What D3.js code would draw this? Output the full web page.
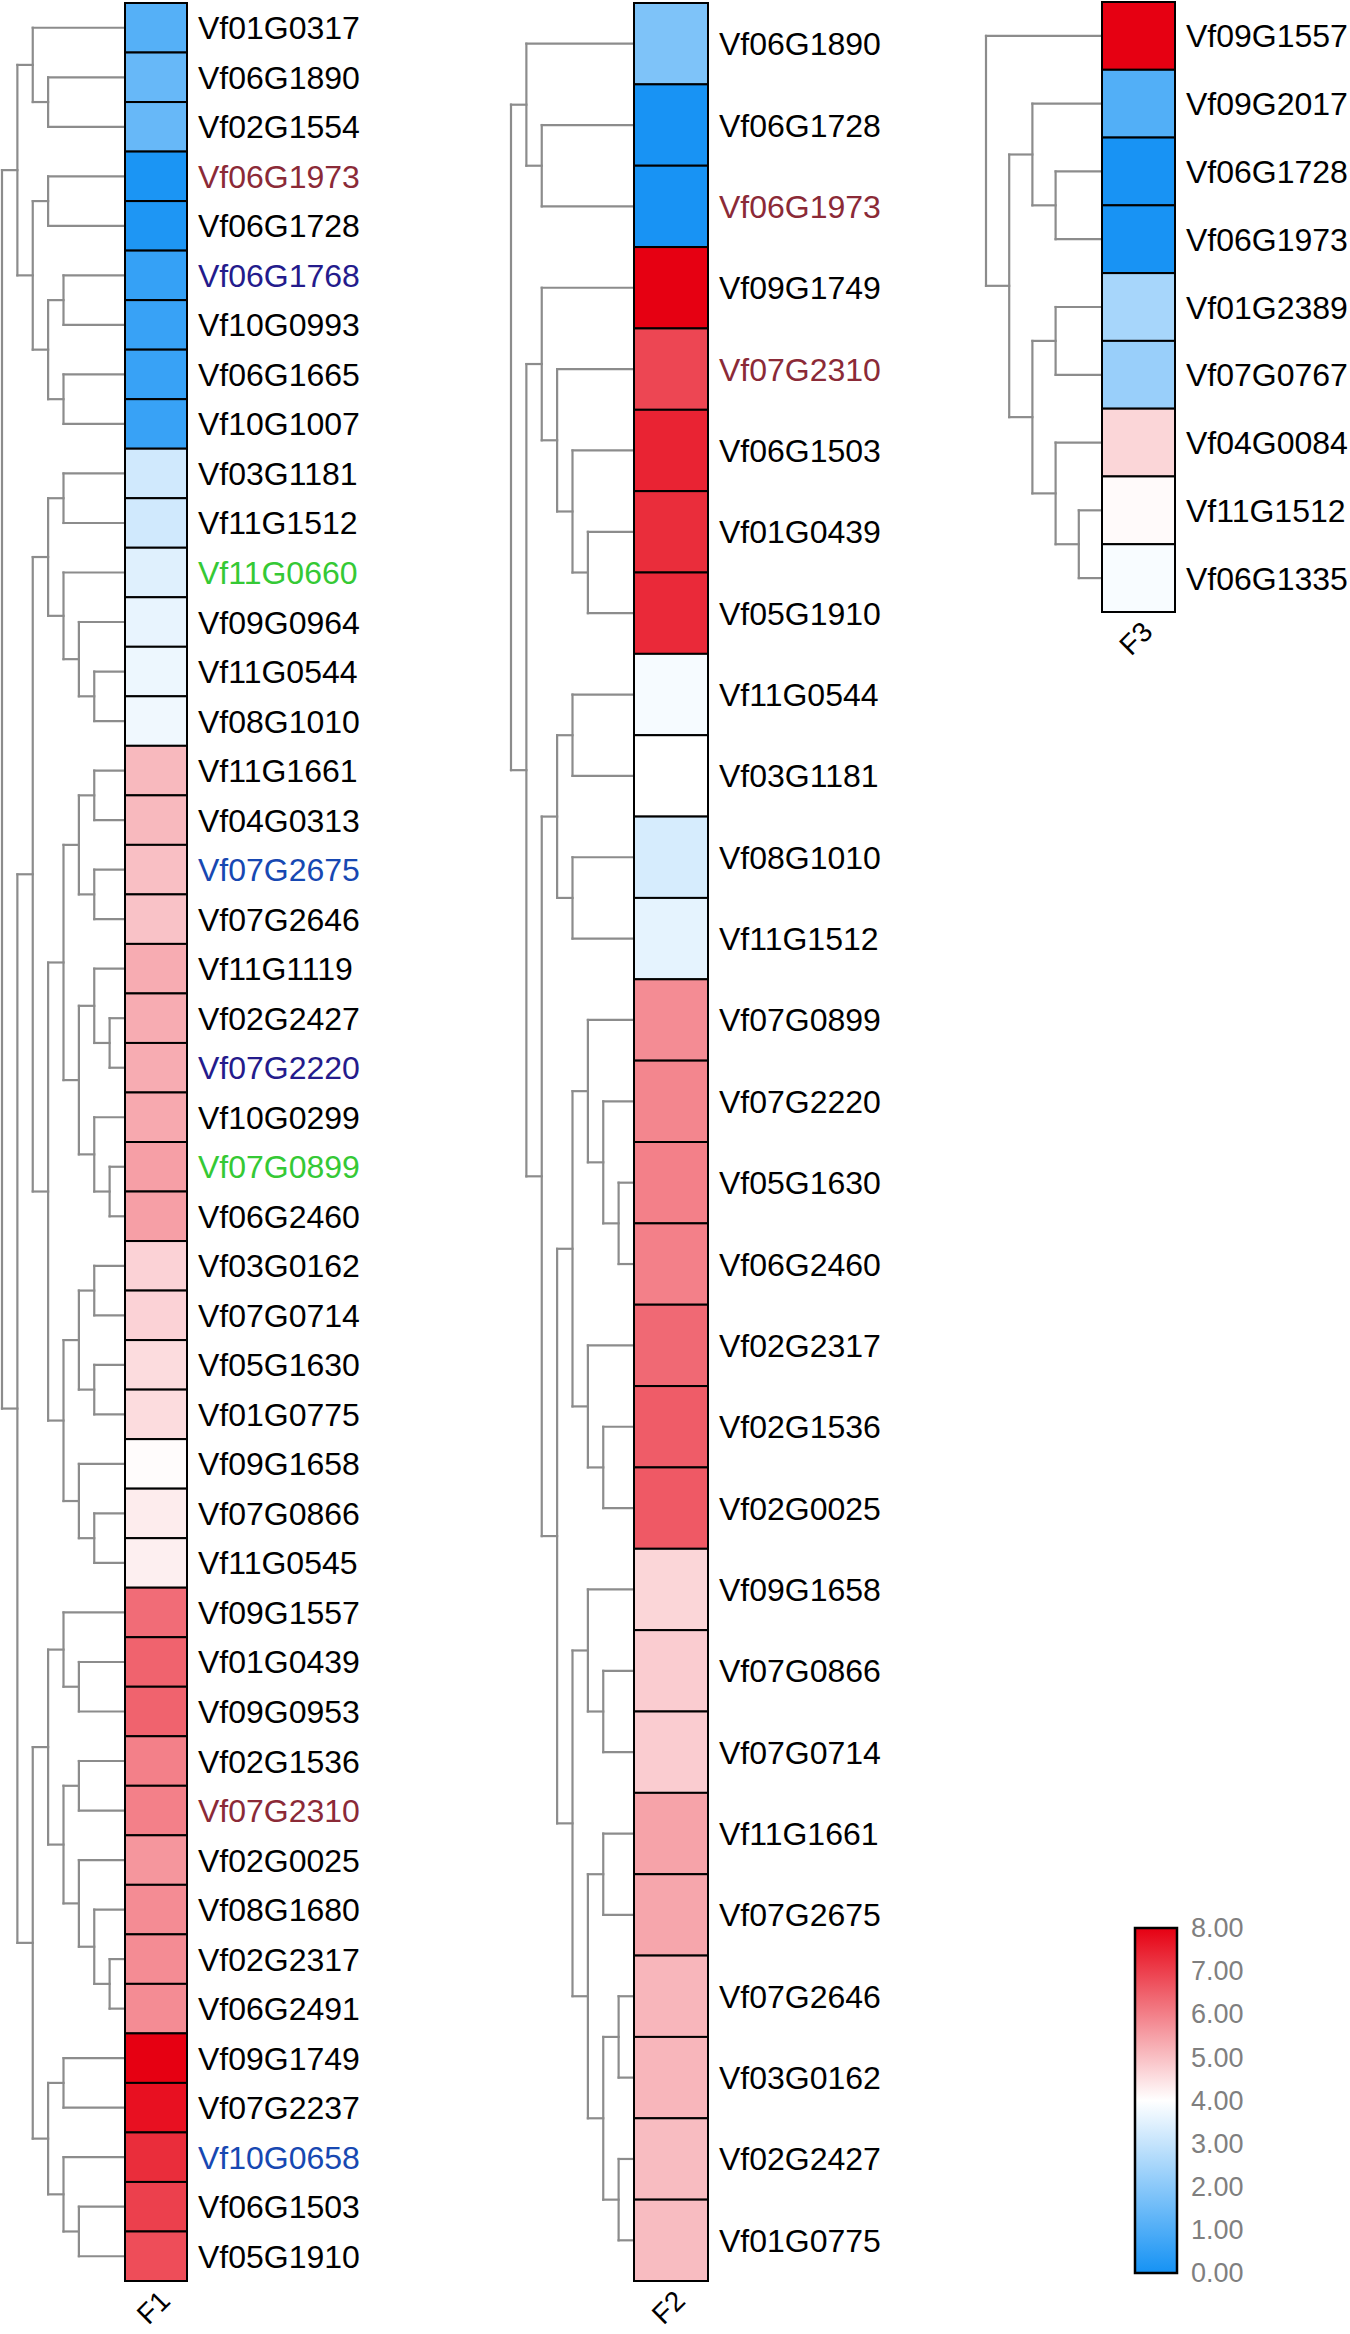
<!DOCTYPE html>
<html><head><meta charset="utf-8">
<script src="https://cdn.jsdelivr.net/npm/d3@7"></script>
<style>body{margin:0;background:#fff}</style>
</head><body>
<svg id="chart" width="1350" height="2334"></svg>
<script>
// ---------------- DATA ----------------
const f1Genes = ["Vf01G0317","Vf06G1890","Vf02G1554","Vf06G1973","Vf06G1728","Vf06G1768","Vf10G0993","Vf06G1665","Vf10G1007","Vf03G1181","Vf11G1512","Vf11G0660","Vf09G0964","Vf11G0544","Vf08G1010","Vf11G1661","Vf04G0313","Vf07G2675","Vf07G2646","Vf11G1119","Vf02G2427","Vf07G2220","Vf10G0299","Vf07G0899","Vf06G2460","Vf03G0162","Vf07G0714","Vf05G1630","Vf01G0775","Vf09G1658","Vf07G0866","Vf11G0545","Vf09G1557","Vf01G0439","Vf09G0953","Vf02G1536","Vf07G2310","Vf02G0025","Vf08G1680","Vf02G2317","Vf06G2491","Vf09G1749","Vf07G2237","Vf10G0658","Vf06G1503","Vf05G1910"];
const f1Values = [1.1,1.4,1.4,0.1,0.15,0.55,0.6,0.6,0.6,3.2,3.2,3.45,3.6,3.7,3.75,5.1,5.1,5.0,4.95,5.3,5.3,5.3,5.35,5.5,5.5,4.7,4.7,4.55,4.55,4.05,4.3,4.25,6.3,6.45,6.45,6.0,6.0,5.65,5.8,5.8,5.8,8.0,7.75,7.3,7.0,6.8];
// dendrogram: [mergeLevel, left, right]; leaves are row indices
const f1Tree = [8,
  [7, [6, 0, [5, 1, 2]], [6, [5, 3, 4], [5, [4, 5, 6], [4, 7, 8]]]],
  [7,
    [6,
      [5, [4, 9, 10], [4, 11, [3, 12, [2, 13, 14]]]],
      [5,
        [4, [3, [2, 15, 16], [2, 17, 18]], [3, [2, 19, [1, 20, 21]], [2, 22, [1, 23, 24]]]],
        [4, [3, [2, 25, 26], [2, 27, 28]], [3, 29, [2, 30, 31]]]]],
    [6,
      [5, [4, 32, [3, 33, 34]], [4, [3, 35, 36], [3, 37, [2, 38, [1, 39, 40]]]]],
      [5, [4, 41, 42], [4, 43, [3, 44, 45]]]]]];
const f1LabelColors = [["Vf06G1973","#8B2A37"],["Vf06G1768","#241B8C"],["Vf11G0660","#35C935"],["Vf07G2675","#1748B2"],["Vf07G2220","#241B8C"],["Vf07G0899","#35C935"],["Vf07G2310","#8B2A37"],["Vf10G0658","#1748B2"]];

const f2Genes = ["Vf06G1890","Vf06G1728","Vf06G1973","Vf09G1749","Vf07G2310","Vf06G1503","Vf01G0439","Vf05G1910","Vf11G0544","Vf03G1181","Vf08G1010","Vf11G1512","Vf07G0899","Vf07G2220","Vf05G1630","Vf06G2460","Vf02G2317","Vf02G1536","Vf02G0025","Vf09G1658","Vf07G0866","Vf07G0714","Vf11G1661","Vf07G2675","Vf07G2646","Vf03G0162","Vf02G2427","Vf01G0775"];
const f2Values = [1.8,0.05,0.05,8.0,6.9,7.45,7.3,7.35,3.85,4.0,3.3,3.55,5.8,5.9,6.0,6.0,6.35,6.55,6.6,4.65,4.8,4.8,5.45,5.4,5.15,5.15,5.05,5.05];
const f2Tree = [8,
  [7, 0, [6, 1, 2]],
  [7,
    [6, 3, [5, 4, [4, 5, [3, 6, 7]]]],
    [6,
      [5, [4, 8, 9], [4, 10, 11]],
      [5,
        [4, [3, 12, [2, 13, [1, 14, 15]]], [3, 16, [2, 17, 18]]],
        [4, [3, 19, [2, 20, 21]], [3, [2, 22, 23], [2, [1, 24, 25], [1, 26, 27]]]]]]]];
const f2LabelColors = [["Vf06G1973","#8B2A37"],["Vf07G2310","#8B2A37"]];

const f3Genes = ["Vf09G1557","Vf09G2017","Vf06G1728","Vf06G1973","Vf01G2389","Vf07G0767","Vf04G0084","Vf11G1512","Vf06G1335"];
const f3Values = [8.0,1.05,0.05,0.05,2.5,2.25,4.65,4.08,3.88];
const f3Tree = [5, 0, [4, [3, 1, [2, 2, 3]], [3, [2, 4, 5], [2, 6, [1, 7, 8]]]]];
const f3LabelColors = [];

const panelNames = ["F1","F2","F3"];
const colorStops = [0, 4, 8];
const colorRange = ["#1592F4", "#FFFFFF", "#E60012"];
const legendTicks = [0,1,2,3,4,5,6,7,8];

// ---------------- DRAW ----------------
const FONT = "'Liberation Sans', Arial, Helvetica, sans-serif";
const svg = d3.select("#chart");
svg.append("rect").attr("width",1350).attr("height",2334).attr("fill","#fff");
const color = d3.scaleLinear().domain(colorStops).range(colorRange).clamp(true);

const panels = [
  {name: panelNames[0], genes: f1Genes, values: f1Values, tree: f1Tree, hi: f1LabelColors, x0: 125, x1: 187, top: 3, bottom: 2281, dLeft: 2},
  {name: panelNames[1], genes: f2Genes, values: f2Values, tree: f2Tree, hi: f2LabelColors, x0: 634, x1: 708, top: 3, bottom: 2281, dLeft: 511},
  {name: panelNames[2], genes: f3Genes, values: f3Values, tree: f3Tree, hi: f3LabelColors, x0: 1102, x1: 1175, top: 2, bottom: 612, dLeft: 986}
];

panels.forEach(p => {
  const y = d3.scaleBand().domain(p.genes).range([p.top, p.bottom]);
  const x = d3.scaleLinear().domain([0, p.tree[0]]).range([p.x0, p.dLeft]);
  const root = d3.hierarchy(p.tree, d => Array.isArray(d) ? d.slice(1) : null);
  root.eachAfter(n => {
    if (!n.children) { n.h = 0; n.py = y(p.genes[n.data]) + y.bandwidth() / 2; }
    else { n.h = n.data[0]; n.py = (n.children[0].py + n.children[n.children.length - 1].py) / 2; }
  });
  const segs = [];
  root.each(n => {
    if (!n.children) return;
    const nx = x(n.h);
    segs.push([nx, n.children[0].py, nx, n.children[n.children.length - 1].py]);
    n.children.forEach(c => segs.push([nx, c.py, x(c.h), c.py]));
  });
  svg.append("g").attr("stroke", "#8c8c8c").attr("stroke-width", 2.2).attr("stroke-linecap", "square")
    .selectAll("line").data(segs).join("line")
    .attr("x1", d => d[0]).attr("y1", d => d[1]).attr("x2", d => d[2]).attr("y2", d => d[3]);

  svg.append("g").selectAll("rect").data(p.genes).join("rect")
    .attr("x", p.x0).attr("width", p.x1 - p.x0)
    .attr("y", d => y(d)).attr("height", y.bandwidth())
    .attr("fill", (d, i) => color(p.values[i]))
    .attr("stroke", "#000").attr("stroke-width", 2);

  const hi = new Map(p.hi);
  svg.append("g").selectAll("text").data(p.genes).join("text")
    .attr("x", p.x1 + 11).attr("y", d => y(d) + y.bandwidth() / 2).attr("dy", "0.36em")
    .attr("font-family", FONT).attr("font-size", 32)
    .attr("fill", d => hi.get(d) || "#000")
    .text(d => d);

  const cx = (p.x0 + p.x1) / 2 - 3, cy = p.bottom + 26;
  svg.append("text").attr("transform", `translate(${cx},${cy}) rotate(-45)`)
    .attr("text-anchor", "middle").attr("dy", "0.36em")
    .attr("font-family", FONT).attr("font-size", 28).attr("fill", "#000")
    .text(p.name);
});

// legend
const lgX = 1135, lgW = 42, lgTop = 1928, lgBot = 2273;
const ly = d3.scaleLinear().domain([colorStops[0], colorStops[colorStops.length - 1]]).range([lgBot, lgTop]);
const grad = svg.append("defs").append("linearGradient").attr("id", "lg")
  .attr("x1", 0).attr("y1", 1).attr("x2", 0).attr("y2", 0);
colorStops.forEach((s, i) => grad.append("stop")
  .attr("offset", (s - colorStops[0]) / (colorStops[colorStops.length - 1] - colorStops[0]))
  .attr("stop-color", colorRange[i]));
svg.append("rect").attr("x", lgX).attr("y", lgTop).attr("width", lgW).attr("height", lgBot - lgTop)
  .attr("fill", "url(#lg)").attr("stroke", "#000").attr("stroke-width", 2.5);
const axis = svg.append("g").attr("transform", `translate(${lgX + lgW},0)`)
  .call(d3.axisRight(ly).tickValues(legendTicks).tickSize(0).tickPadding(14).tickFormat(d3.format(".2f")));
axis.select(".domain").remove();
axis.selectAll("text").attr("font-family", FONT).attr("font-size", 27).attr("fill", "#7f7f7f");
</script>
</body></html>
